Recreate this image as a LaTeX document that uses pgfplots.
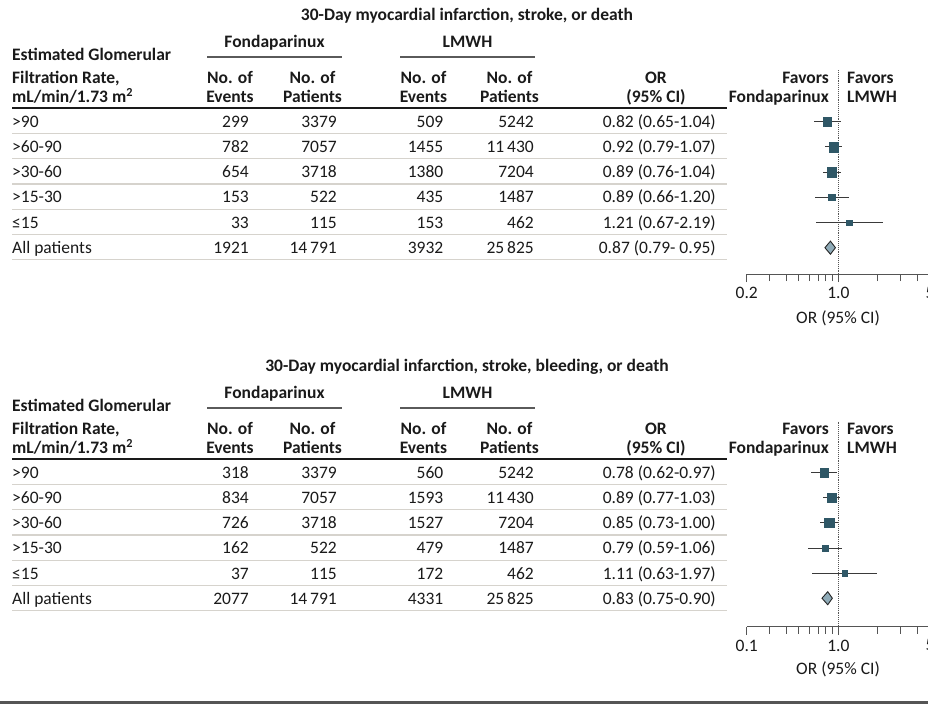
\documentclass[border=0pt]{standalone}
\usepackage{pgfplots}
\pgfplotsset{compat=1.18}
\usepackage{pgfplotstable}
\usepackage{fontspec}
\setmainfont{Carlito}
\definecolor{sq}{HTML}{2F5766}
\definecolor{dia}{HTML}{8FABB8}
\definecolor{sepc}{HTML}{D6D3CD}
\definecolor{ulc}{HTML}{5A5A5A}
\definecolor{txt}{HTML}{1A1A1A}
\definecolor{cig}{HTML}{3A3A3A}
\definecolor{axc}{HTML}{555555}
\newcommand\fs{\fontsize{17.5}{21}\selectfont}

% forest data: row, OR, lower, upper, marker half-size
\pgfplotstableread{
row or lo hi ms
1 0.82 0.65 1.04 4.2
2 0.92 0.79 1.07 4.9
3 0.89 0.76 1.04 4.9
4 0.89 0.66 1.20 3.3
5 1.21 0.67 2.19 2.6
}\fA
\pgfplotstableread{
row or lo hi ms
1 0.78 0.62 0.97 4.2
2 0.89 0.77 1.03 4.6
3 0.85 0.73 1.00 4.7
4 0.79 0.59 1.06 3.2
5 1.11 0.63 1.97 2.6
}\fB

\newcommand\trow[7]{%
  \node[anchor=base west] at (12,#1) {#2};
  \node[anchor=base east] at (249,#1) {#3};
  \node[anchor=base east] at (337,#1) {#4};
  \node[anchor=base east] at (443.5,#1) {#5};
  \node[anchor=base east] at (534,#1) {#6};
  \node[anchor=base east] at (716,#1) {#7};
}
\newcommand\header[1]{%
  \node[anchor=base, font=\fs\bfseries] at (467,20.5) {#1};
  \node[anchor=base, font=\fs\bfseries] at (274.5,47.5) {Fondaparinux};
  \node[anchor=base, font=\fs\bfseries] at (467.5,47.5) {LMWH};
  \draw[ulc, line width=1.6pt] (207,57) -- (342,57);
  \draw[ulc, line width=1.6pt] (400,57) -- (535,57);
  \node[anchor=base west, font=\fs\bfseries] at (12,60.5) {Estimated Glomerular};
  \node[anchor=base west, font=\fs\bfseries] at (12,83.5) {Filtration Rate,};
  \node[anchor=base west, font=\fs\bfseries] at (12,102.5) {mL/min/1.73 m\textsuperscript{2}};
  \foreach \cx/\w in {230/Events, 312.5/Patients, 423.5/Events, 509.5/Patients}{
    \node[anchor=base, font=\fs\bfseries] at (\cx,83.5) {No. of};
    \node[anchor=base, font=\fs\bfseries] at (\cx,102.5) {\w};
  }
  \node[anchor=base, font=\fs\bfseries] at (656,83.5) {OR};
  \node[anchor=base, font=\fs\bfseries] at (656,102.5) {(95\% CI)};
  \node[anchor=base east, font=\fs\bfseries] at (829,83.5) {Favors};
  \node[anchor=base east, font=\fs\bfseries] at (829,102.5) {Fondaparinux};
  \node[anchor=base west, font=\fs\bfseries] at (847,83.5) {Favors};
  \node[anchor=base west, font=\fs\bfseries] at (847,102.5) {LMWH};
  \draw[txt, line width=1.8pt] (12,108) -- (727,108);
  \foreach \k in {0,...,5}{
    \draw[sepc, line width=1.3pt] (12,{133.3+25.3*\k}) -- (727,{133.3+25.3*\k});
  }
  \node[anchor=base] at (838,323.5) {OR (95\% CI)};
}

\begin{document}
\begin{tikzpicture}
\useasboundingbox (0,0) rectangle (928pt,-704pt);
\clip (0,0) rectangle (928pt,-704pt);
\fill[white] (0,0) rectangle (928pt,-704pt);

\begin{scope}[x=1pt,y=-1pt, every node/.style={font=\fs, inner sep=0pt, text=txt}]
  \header{30-Day myocardial infarction, stroke, or death}
  \trow{127.2}{>90}{299}{3379}{509}{5242}{0.82 (0.65-1.04)}
  \trow{152.4}{>60-90}{782}{7057}{1455}{11\,430}{0.92 (0.79-1.07)}
  \trow{177.6}{>30-60}{654}{3718}{1380}{7204}{0.89 (0.76-1.04)}
  \trow{202.8}{>15-30}{153}{522}{435}{1487}{0.89 (0.66-1.20)}
  \trow{228.0}{≤15}{33}{115}{153}{462}{1.21 (0.67-2.19)}
  \trow{253.2}{All patients}{1921}{14\,791}{3932}{25\,825}{0.87 (0.79- 0.95)}
\end{scope}
\begin{scope}[x=1pt,y=-1pt,yshift=-351pt, every node/.style={font=\fs, inner sep=0pt, text=txt}]
  \header{30-Day myocardial infarction, stroke, bleeding, or death}
  \trow{127.2}{>90}{318}{3379}{560}{5242}{0.78 (0.62-0.97)}
  \trow{152.4}{>60-90}{834}{7057}{1593}{11\,430}{0.89 (0.77-1.03)}
  \trow{177.6}{>30-60}{726}{3718}{1527}{7204}{0.85 (0.73-1.00)}
  \trow{202.8}{>15-30}{162}{522}{479}{1487}{0.79 (0.59-1.06)}
  \trow{228.0}{≤15}{37}{115}{172}{462}{1.11 (0.63-1.97)}
  \trow{253.2}{All patients}{2077}{14\,791}{4331}{25\,825}{0.83 (0.75-0.90)}
\end{scope}

\begin{axis}[at={(746.7pt,-274pt)}, anchor=south west,
  scale only axis, width=183.3pt, height=204pt,
  xmode=log, xmin=0.2, xmax=5,
  ymin=-7.044, ymax=1.052,
  hide y axis, axis x line*=bottom,
  axis line style={draw=axc, line width=1pt},
  xtick={0.2,1,5}, minor xtick={0.3,0.4,0.5,0.6,0.7,0.8,0.9,2,3,4},
  xticklabels={0.2,1.0,5},
  tick align=outside, major tick length=8pt, minor tick length=7pt,
  tick style={draw=axc, line width=1pt},
  xticklabel style={font=\fs, text=txt, inner sep=0pt, yshift=-5pt},
  clip=false]
  \draw[axc, densely dotted, line width=0.9pt] (axis cs:1,1.052) -- (axis cs:1,-7.044);
  \addplot[only marks, mark=none, forget plot,
    error bars/.cd, x dir=both, x explicit, error mark=none,
    error bar style={cig, line width=1pt}]
    table[x=or, y expr=-\thisrow{row},
      x error plus expr=\thisrow{hi}-\thisrow{or},
      x error minus expr=\thisrow{or}-\thisrow{lo}] {\fA};
  \addplot[scatter, only marks, mark=square*,
    scatter/use mapped color={draw=sq, fill=sq},
    visualization depends on={\thisrow{ms}\as\msz},
    scatter/@pre marker code/.append style={/tikz/mark size=\msz}]
    table[x=or, y expr=-\thisrow{row}] {\fA};
  \addplot[fill=dia, draw=black!85, line width=0.9pt]
    coordinates {(0.79,-6) (0.87,-5.74) (0.95,-6) (0.87,-6.26)} -- cycle;
\end{axis}

\begin{axis}[at={(746.7pt,-626.5pt)}, anchor=south west,
  scale only axis, width=183.3pt, height=205pt,
  xmode=log, xmin=0.2, xmax=5,
  ymin=-7.127, ymax=1.04,
  hide y axis, axis x line*=bottom,
  axis line style={draw=axc, line width=1pt},
  xtick={0.2,1,5}, minor xtick={0.3,0.4,0.5,0.6,0.7,0.8,0.9,2,3,4},
  xticklabels={0.1,1.0,5},
  tick align=outside, major tick length=8pt, minor tick length=7pt,
  tick style={draw=axc, line width=1pt},
  xticklabel style={font=\fs, text=txt, inner sep=0pt, yshift=-5pt},
  clip=false]
  \draw[axc, densely dotted, line width=0.9pt] (axis cs:1,1.04) -- (axis cs:1,-7.127);
  \addplot[only marks, mark=none, forget plot,
    error bars/.cd, x dir=both, x explicit, error mark=none,
    error bar style={cig, line width=1pt}]
    table[x=or, y expr=-\thisrow{row},
      x error plus expr=\thisrow{hi}-\thisrow{or},
      x error minus expr=\thisrow{or}-\thisrow{lo}] {\fB};
  \addplot[scatter, only marks, mark=square*,
    scatter/use mapped color={draw=sq, fill=sq},
    visualization depends on={\thisrow{ms}\as\msz},
    scatter/@pre marker code/.append style={/tikz/mark size=\msz}]
    table[x=or, y expr=-\thisrow{row}] {\fB};
  \addplot[fill=dia, draw=black!85, line width=0.9pt]
    coordinates {(0.75,-6) (0.83,-5.74) (0.90,-6) (0.83,-6.26)} -- cycle;
\end{axis}

\draw[axc, line width=2.2pt] (0,-702.5pt) -- (928pt,-702.5pt);
\end{tikzpicture}
\end{document}
